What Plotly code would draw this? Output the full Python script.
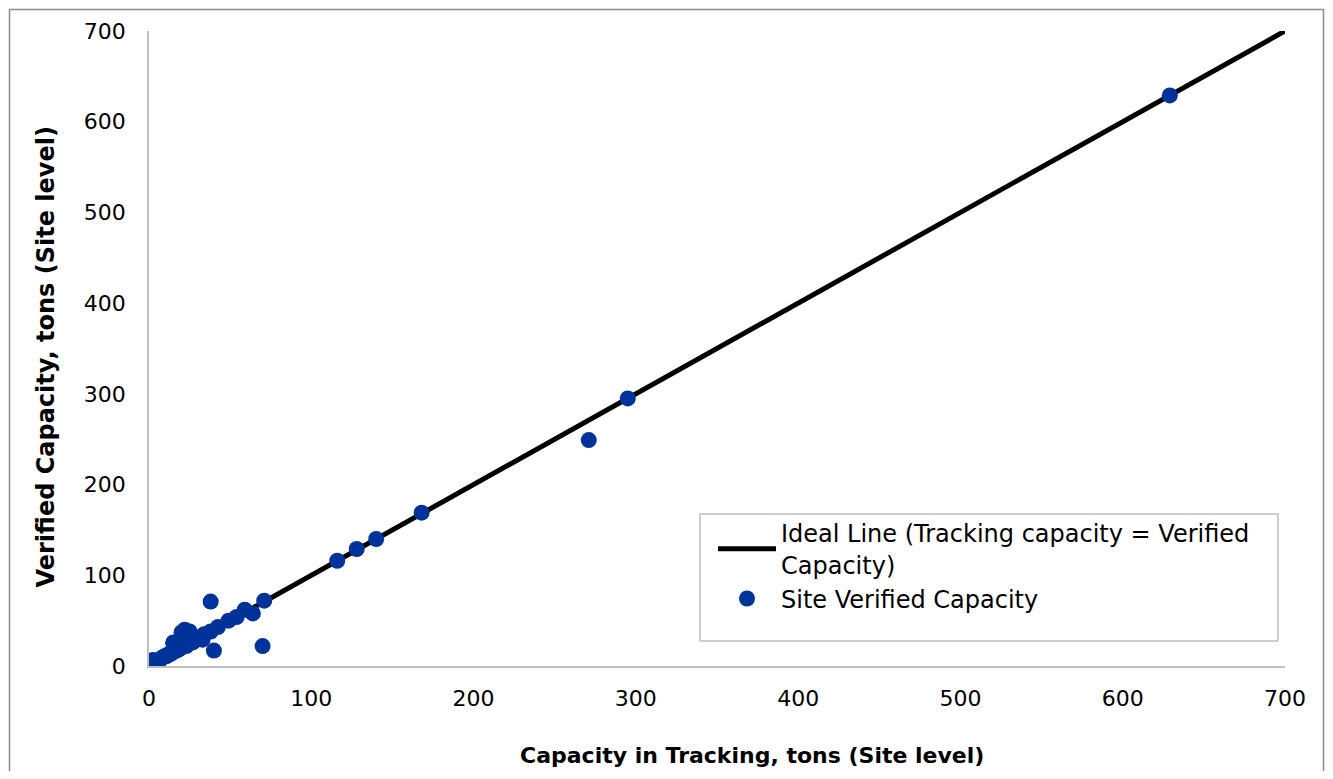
import plotly.graph_objects as go

# Site-level data: capacity in tracking (x) vs verified capacity (y), tons
tracking = [629, 295, 271, 168, 140, 128, 116, 71, 70, 38, 40, 64, 59, 54, 49, 42.5, 38, 32,
            22, 25, 20, 15, 28, 30, 26, 24, 22, 20, 18, 16, 14, 12, 10, 9, 8, 7, 6, 5, 4, 3, 2.5, 2, 1.5, 1,
            34, 33, 31, 27, 23, 19, 17, 13, 11, 33, 15]
verified = [629, 295, 249, 169, 140, 129, 116, 72, 22, 71, 17, 58, 62, 54, 50, 43, 38, 32,
            40, 38, 37, 26, 28, 30, 27, 24, 23, 21, 18, 17, 14, 13, 11, 10, 9, 7, 6, 5, 4, 3, 6.6, 2, 1.5, 1,
            35, 33, 31, 26, 22, 19, 17, 13, 11, 29, 25]

ideal_x = [0, 700]
ideal_y = [0, 700]

x_ticks = [0, 100, 200, 300, 400, 500, 600, 700]
y_ticks = [0, 100, 200, 300, 400, 500, 600, 700]

FONT = "DejaVu Sans"

fig = go.Figure()
fig.add_trace(go.Scatter(
    x=ideal_x, y=ideal_y, mode="lines",
    name="Ideal Line (Tracking capacity = Verified<br>Capacity)",
    line=dict(color="black", width=5),
))
fig.add_trace(go.Scatter(
    x=tracking, y=verified, mode="markers",
    name="Site Verified Capacity",
    marker=dict(color="#003399", size=16, line=dict(width=0)),
))

axis_common = dict(
    range=[0, 700], showgrid=False, zeroline=False,
    showline=True, linecolor="#BFBFBF", linewidth=1.5,
    ticks="", tickfont=dict(family=FONT, size=22, color="black"),
)

# plot area in screen px: x 149..1285, y 31..666 (page has 8px body margin)
PW, PH = 1136, 635

def px_x(x):
    return (x - 149) / PW

def px_y(y):
    return (666 - y) / PH

fig.update_layout(
    width=1317, height=763,
    margin=dict(l=141, r=40, t=23, b=105),
    paper_bgcolor="white", plot_bgcolor="white",
    font=dict(family=FONT, color="black"),
    xaxis=dict(**axis_common, tickvals=x_ticks, ticklabelstandoff=12),
    yaxis=dict(**axis_common, tickvals=y_ticks, ticklabelstandoff=17),
    legend=dict(x=px_x(713), y=px_y(511), xanchor="left", yanchor="top",
                bgcolor="rgba(0,0,0,0)", borderwidth=0,
                font=dict(family=FONT, size=24, color="black"),
                itemwidth=58, tracegroupgap=2),
    showlegend=True,
    annotations=[
        dict(text="<b>Capacity in Tracking, tons (Site level)</b>",
             xref="paper", yref="paper", x=px_x(752), y=px_y(755),
             xanchor="center", yanchor="middle", showarrow=False,
             font=dict(family=FONT, size=22, color="black")),
        dict(text="<b>Verified Capacity, tons (Site level)</b>",
             xref="paper", yref="paper", x=px_x(46), y=px_y(357.5),
             xanchor="center", yanchor="middle", showarrow=False, textangle=-90,
             font=dict(family=FONT, size=24, color="black")),
    ],
    shapes=[
        # legend frame
        dict(type="rect", xref="paper", yref="paper",
             x0=px_x(700), x1=px_x(1278), y0=px_y(641), y1=px_y(514),
             line=dict(color="#BFBFBF", width=1.5), fillcolor="white", layer="below"),
        # outer chart frame
        dict(type="rect", xref="paper", yref="paper",
             x0=px_x(9.5), x1=px_x(1323.5), y0=px_y(800), y1=px_y(9.5),
             line=dict(color="#8C8C8C", width=1.5), fillcolor="rgba(0,0,0,0)"),
    ],
)

fig.write_html("out.html")
